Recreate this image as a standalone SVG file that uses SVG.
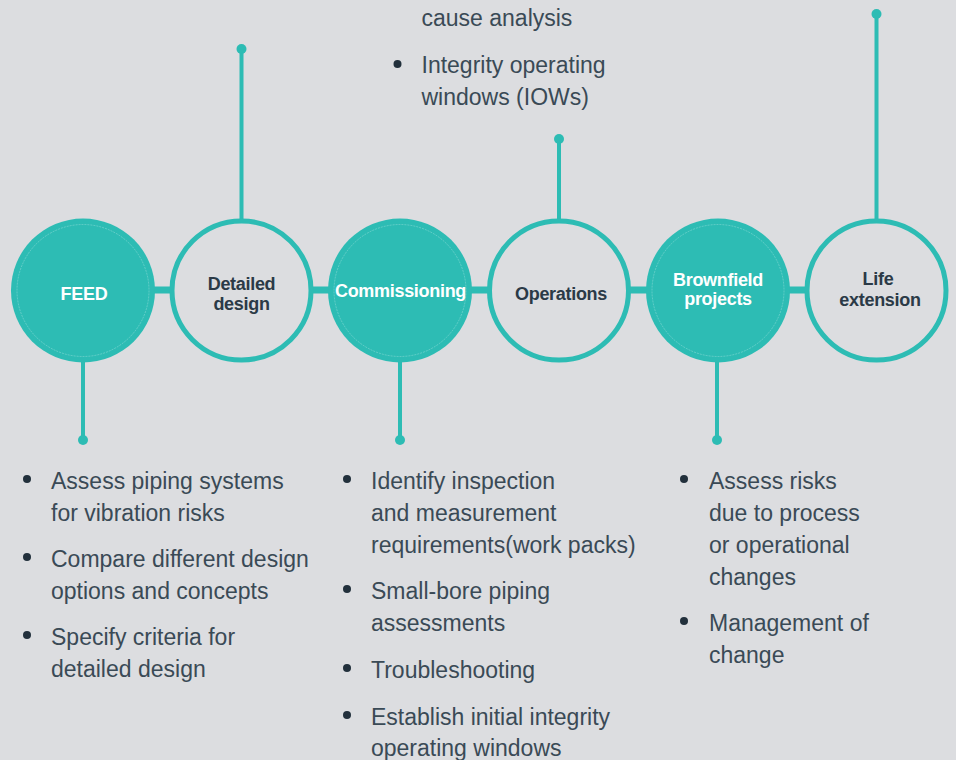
<svg xmlns="http://www.w3.org/2000/svg" width="956" height="760" viewBox="0 0 956 760">
<style>
.bg{fill:#DCDDE0}
.ln{stroke:#2DBCB4;stroke-width:4;fill:none}
.bar{stroke:#2DBCB4;stroke-width:7;fill:none}
.dot{fill:#2DBCB4}
.filled{fill:#2DBCB4}
.inner{fill:none;stroke:#FFFFFF;stroke-opacity:0.35;stroke-width:0.7;stroke-dasharray:2 1}
.ring{fill:#DCDDE0;stroke:#2DBCB4;stroke-width:5}
.lw{font-family:"Liberation Sans",Arial,sans-serif;font-size:18px;font-weight:bold;letter-spacing:-0.3px;fill:#FFFFFF;text-anchor:middle}
.ld{font-family:"Liberation Sans",Arial,sans-serif;font-size:18px;font-weight:bold;letter-spacing:-0.3px;fill:#2B3A47;text-anchor:middle}
.tx{font-family:"Liberation Sans",Arial,sans-serif;font-size:23px;fill:#3A4A56}
.bul{fill:#22303C}
</style>
<rect class="bg" x="0" y="0" width="956" height="760"/>
<g id="connectors">
<line class="bar" x1="83" y1="290" x2="877" y2="290"/>
<line class="ln" x1="241.5" y1="49" x2="241.5" y2="220"/>
<circle class="dot" cx="241.5" cy="49" r="5"/>
<line class="ln" x1="559" y1="139" x2="559" y2="220"/>
<circle class="dot" cx="559" cy="139" r="5"/>
<line class="ln" x1="876.5" y1="14" x2="876.5" y2="220"/>
<circle class="dot" cx="876.5" cy="14" r="5"/>
<line class="ln" x1="83" y1="360" x2="83" y2="440"/>
<circle class="dot" cx="83" cy="440" r="5"/>
<line class="ln" x1="400" y1="360" x2="400" y2="440"/>
<circle class="dot" cx="400" cy="440" r="5"/>
<line class="ln" x1="717" y1="360" x2="717" y2="440"/>
<circle class="dot" cx="717" cy="440" r="5"/>
</g>
<g id="feed">
<circle class="filled" cx="83" cy="290.5" r="72"/>
<circle class="inner" cx="83" cy="290.5" r="66"/>
<text class="lw" x="84" y="300">FEED</text>
</g>
<g id="detailed-design">
<circle class="ring" cx="241.5" cy="290.5" r="69.5"/>
<text class="ld" x="241.5" y="290">Detailed</text>
<text class="ld" x="241.5" y="310">design</text>
</g>
<g id="commissioning">
<circle class="filled" cx="400" cy="290.5" r="72"/>
<circle class="inner" cx="400" cy="290.5" r="66"/>
<text class="lw" x="400.5" y="297">Commissioning</text>
</g>
<g id="operations">
<circle class="ring" cx="559" cy="290.5" r="69.5"/>
<text class="ld" x="561" y="300">Operations</text>
</g>
<g id="brownfield">
<circle class="filled" cx="718" cy="290.5" r="72"/>
<circle class="inner" cx="718" cy="290.5" r="66"/>
<text class="lw" x="718" y="286">Brownfield</text>
<text class="lw" x="718" y="305">projects</text>
</g>
<g id="life-extension">
<circle class="ring" cx="876.5" cy="290.5" r="69.5"/>
<text class="ld" x="878" y="285">Life</text>
<text class="ld" x="880" y="306">extension</text>
</g>
<g id="top-text">
<text class="tx" x="421.5" y="26">cause analysis</text>
<circle class="bul" cx="397.5" cy="64" r="4"/>
<text class="tx" x="421.5" y="73">Integrity operating</text>
<text class="tx" x="421.5" y="105">windows (IOWs)</text>
</g>
<g id="feed-text">
<circle class="bul" cx="27" cy="479" r="4"/>
<text class="tx" x="51" y="489">Assess piping systems</text>
<text class="tx" x="51" y="521">for vibration risks</text>
<circle class="bul" cx="27" cy="557" r="4"/>
<text class="tx" x="51" y="567">Compare different design</text>
<text class="tx" x="51" y="599">options and concepts</text>
<circle class="bul" cx="27" cy="635" r="4"/>
<text class="tx" x="51" y="645">Specify criteria for</text>
<text class="tx" x="51" y="677">detailed design</text>
</g>
<g id="commissioning-text">
<circle class="bul" cx="347" cy="479" r="4"/>
<text class="tx" x="371" y="489">Identify inspection</text>
<text class="tx" x="371" y="521">and measurement</text>
<text class="tx" x="371" y="553">requirements(work packs)</text>
<circle class="bul" cx="347" cy="589" r="4"/>
<text class="tx" x="371" y="599">Small-bore piping</text>
<text class="tx" x="371" y="631">assessments</text>
<circle class="bul" cx="347" cy="668" r="4"/>
<text class="tx" x="371" y="678">Troubleshooting</text>
<circle class="bul" cx="347" cy="715" r="4"/>
<text class="tx" x="371" y="725">Establish initial integrity</text>
<text class="tx" x="371" y="756">operating windows</text>
</g>
<g id="brownfield-text">
<circle class="bul" cx="684" cy="479" r="4"/>
<text class="tx" x="709" y="489">Assess risks</text>
<text class="tx" x="709" y="521">due to process</text>
<text class="tx" x="709" y="553">or operational</text>
<text class="tx" x="709" y="585">changes</text>
<circle class="bul" cx="684" cy="621" r="4"/>
<text class="tx" x="709" y="631">Management of</text>
<text class="tx" x="709" y="663">change</text>
</g>
</svg>
